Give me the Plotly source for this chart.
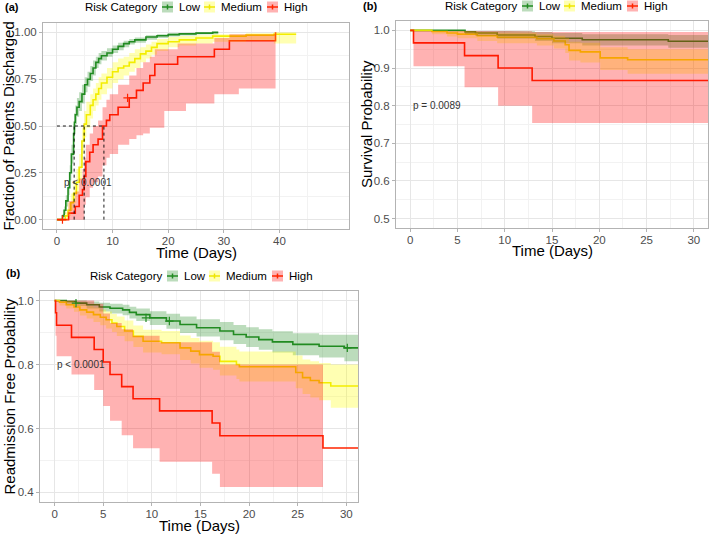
import plotly.graph_objects as go

FONT = "Liberation Sans, Arial, sans-serif"

groups = ["Low", "Medium", "High"]
line_colors = {"Low": "#228B22", "Medium": "#EEE600", "High": "#FF2400"}
band_colors = {"Low": "rgba(34,139,34,0.3)", "Medium": "rgba(255,255,0,0.3)", "High": "rgba(255,0,0,0.3)"}
legend_title = "Risk Category"
x_title = "Time (Days)"
y_titles = ["Fraction of Patients Discharged", "Survival Probability", "Readmission Free Probability"]

# ---------------- Panel (a): fraction discharged ----------------
a_low_t = [0, 1.0, 1.3, 1.6, 2.0, 2.3, 2.6, 3.0, 3.15, 3.3, 3.6, 4.0, 4.5, 5.0, 5.5, 6.0, 6.5, 7.0, 7.5, 8.0, 9.0, 10, 11, 12, 13, 14, 16, 18, 20, 22, 25, 28, 29]
a_low_v = [0, 0.02, 0.05, 0.10, 0.17, 0.25, 0.35, 0.46, 0.52, 0.56, 0.60, 0.63, 0.67, 0.72, 0.75, 0.78, 0.81, 0.84, 0.86, 0.875, 0.89, 0.91, 0.925, 0.94, 0.95, 0.96, 0.975, 0.982, 0.988, 0.992, 0.996, 1.0, 1.0]
a_low_lo = [0, 0.01, 0.03, 0.07, 0.13, 0.21, 0.30, 0.41, 0.47, 0.51, 0.55, 0.58, 0.62, 0.68, 0.71, 0.74, 0.77, 0.81, 0.83, 0.85, 0.87, 0.89, 0.905, 0.92, 0.935, 0.945, 0.96, 0.97, 0.978, 0.983, 0.988, 0.99, 0.99]
a_low_hi = [0, 0.03, 0.07, 0.13, 0.21, 0.29, 0.40, 0.51, 0.57, 0.61, 0.65, 0.68, 0.72, 0.76, 0.79, 0.82, 0.85, 0.87, 0.89, 0.90, 0.915, 0.93, 0.945, 0.955, 0.965, 0.972, 0.985, 0.99, 0.995, 0.998, 1.0, 1.0, 1.0]

a_med_t = [0, 1.5, 2.0, 2.5, 3.0, 3.5, 4.0, 4.5, 4.9, 5.3, 6.0, 6.5, 7.0, 7.5, 8.0, 9.0, 10.0, 11.0, 12.0, 13.0, 14.0, 15.0, 16.0, 17.0, 18.0, 20.0, 22.0, 25.0, 28.0, 34.0, 39.0, 43.0]
a_med_v = [0, 0.02, 0.05, 0.09, 0.14, 0.20, 0.28, 0.42, 0.51, 0.56, 0.61, 0.64, 0.67, 0.70, 0.73, 0.76, 0.79, 0.81, 0.82, 0.84, 0.86, 0.885, 0.90, 0.92, 0.94, 0.95, 0.96, 0.97, 0.98, 0.985, 0.99, 0.99]
a_med_lo = [0, 0.0, 0.02, 0.05, 0.09, 0.14, 0.21, 0.35, 0.44, 0.49, 0.54, 0.58, 0.61, 0.64, 0.67, 0.70, 0.73, 0.75, 0.77, 0.79, 0.81, 0.84, 0.86, 0.88, 0.90, 0.92, 0.93, 0.94, 0.95, 0.955, 0.94, 0.94]
a_med_hi = [0, 0.04, 0.09, 0.14, 0.20, 0.27, 0.35, 0.49, 0.58, 0.63, 0.67, 0.70, 0.73, 0.76, 0.78, 0.81, 0.84, 0.86, 0.87, 0.89, 0.91, 0.92, 0.935, 0.95, 0.965, 0.975, 0.98, 0.985, 0.99, 0.995, 1.0, 1.0]

a_high_t = [0, 2.1, 3.3, 4.0, 4.6, 4.9, 5.2, 5.9, 6.5, 7.4, 8.2, 8.9, 9.5, 11.0, 13.0, 14.3, 15.5, 16.7, 17.6, 19.3, 21.7, 23.2, 28.3, 31.0, 32.7, 39.3]
a_high_v = [0, 0.035, 0.07, 0.13, 0.16, 0.23, 0.31, 0.36, 0.40, 0.43, 0.50, 0.53, 0.56, 0.60, 0.65, 0.69, 0.73, 0.77, 0.83, 0.83, 0.87, 0.87, 0.91, 0.955, 0.955, 1.0]
a_high_lo = [0, 0, 0, 0, 0, 0.08, 0.12, 0.17, 0.20, 0.23, 0.29, 0.33, 0.35, 0.40, 0.43, 0.45, 0.46, 0.49, 0.49, 0.58, 0.58, 0.62, 0.67, 0.67, 0.70, 0.70]
a_high_hi = [0, 0.10, 0.15, 0.22, 0.27, 0.33, 0.40, 0.46, 0.50, 0.53, 0.60, 0.64, 0.67, 0.72, 0.77, 0.81, 0.84, 0.87, 0.91, 0.91, 0.94, 0.94, 0.97, 0.99, 0.99, 1.0]

a_high_cens_t = [1.0, 12.7]
a_high_cens_v = [0.0, 0.65]
a_median_t = [3.1, 4.9, 8.45]
a_pval = "p < 0.0001"

# ---------------- Panel (b) top: survival ----------------
b_low_t = [0, 5.8, 6.9, 9.2, 13.2, 15.0, 18.2, 27.3, 34]
b_low_v = [1.0, 0.996, 0.993, 0.988, 0.984, 0.979, 0.975, 0.971, 0.971]
b_low_lo = [1.0, 0.99, 0.985, 0.978, 0.972, 0.966, 0.96, 0.954, 0.954]
b_low_hi = [1.0, 1.0, 1.0, 0.998, 0.996, 0.993, 0.99, 0.988, 0.988]

b_med_t = [0, 2.3, 3.9, 5.0, 7.1, 9.2, 13.4, 15.2, 16.4, 16.8, 18.0, 20.1, 23.0, 34]
b_med_v = [1.0, 0.997, 0.993, 0.99, 0.986, 0.982, 0.978, 0.972, 0.962, 0.947, 0.943, 0.927, 0.922, 0.922]
b_med_lo = [1.0, 0.99, 0.984, 0.979, 0.972, 0.966, 0.96, 0.952, 0.94, 0.92, 0.915, 0.895, 0.885, 0.885]
b_med_hi = [1.0, 1.0, 1.0, 0.998, 0.996, 0.994, 0.99, 0.986, 0.98, 0.97, 0.967, 0.955, 0.95, 0.95]

b_high_t = [0, 0.35, 5.75, 9.3, 12.9, 34]
b_high_v = [1.0, 0.967, 0.933, 0.9, 0.867, 0.867]
b_high_lo = [1.0, 0.905, 0.849, 0.80, 0.754, 0.754]
b_high_hi = [1.0, 1.0, 1.0, 0.998, 0.996, 0.996]
b_pval = "p = 0.0089"

# ---------------- Panel (b) bottom: readmission free ----------------
c_low_t = [0, 1.2, 2.2, 3.3, 4.6, 5.7, 7.0, 7.7, 8.4, 9.8, 11.5, 12.9, 14.6, 17.0, 18.4, 19.7, 21.0, 22.4, 24.5, 27.2, 29.8, 34]
c_low_v = [1.0, 0.997, 0.992, 0.987, 0.98, 0.976, 0.971, 0.963, 0.956, 0.946, 0.936, 0.925, 0.915, 0.905, 0.894, 0.886, 0.878, 0.871, 0.863, 0.857, 0.852, 0.852]
c_low_lo = [1.0, 0.99, 0.983, 0.975, 0.966, 0.96, 0.954, 0.944, 0.936, 0.924, 0.912, 0.899, 0.888, 0.876, 0.864, 0.855, 0.846, 0.838, 0.829, 0.822, 0.81, 0.81]
c_low_hi = [1.0, 1.0, 1.0, 0.997, 0.993, 0.99, 0.987, 0.981, 0.975, 0.967, 0.959, 0.95, 0.942, 0.933, 0.924, 0.917, 0.91, 0.904, 0.898, 0.893, 0.893, 0.893]
c_low_cens_t = [2.2, 9.4, 11.8, 30.1]
c_low_cens_v = [0.992, 0.946, 0.936, 0.852]

c_med_t = [0, 0.5, 1.2, 2.0, 2.6, 3.3, 4.0, 4.7, 5.3, 5.9, 6.4, 7.2, 8.1, 9.1, 11.0, 12.9, 14.0, 14.9, 16.3, 17.0, 18.7, 19.0, 24.8, 25.5, 26.3, 27.2, 28.4, 34]
c_med_v = [1.0, 0.995, 0.987, 0.98, 0.971, 0.964, 0.956, 0.948, 0.94, 0.93, 0.919, 0.905, 0.888, 0.873, 0.868, 0.852, 0.842, 0.831, 0.826, 0.81, 0.80, 0.793, 0.775, 0.759, 0.75, 0.743, 0.733, 0.733]
c_med_lo = [1.0, 0.985, 0.975, 0.965, 0.953, 0.944, 0.933, 0.923, 0.913, 0.902, 0.889, 0.873, 0.855, 0.838, 0.832, 0.814, 0.803, 0.79, 0.784, 0.766, 0.755, 0.747, 0.726, 0.708, 0.697, 0.688, 0.665, 0.665]
c_med_hi = [1.0, 1.0, 0.998, 0.994, 0.988, 0.983, 0.978, 0.972, 0.966, 0.958, 0.95, 0.938, 0.922, 0.909, 0.905, 0.891, 0.883, 0.874, 0.87, 0.856, 0.847, 0.841, 0.828, 0.816, 0.81, 0.805, 0.80, 0.80]

c_high_t = [0, 0.1, 0.2, 1.74, 4.07, 5.0, 5.7, 6.9, 8.07, 10.8, 16.2, 17.0, 27.6, 34]
c_high_v = [1.0, 0.962, 0.923, 0.885, 0.847, 0.808, 0.769, 0.731, 0.693, 0.655, 0.617, 0.577, 0.539, 0.539]
c_high_band_t = [0, 0.1, 0.2, 1.74, 4.07, 5.0, 5.7, 6.9, 8.07, 10.8, 16.2, 17.0, 27.6]
c_high_lo = [1.0, 0.89, 0.826, 0.769, 0.72, 0.67, 0.624, 0.579, 0.538, 0.496, 0.458, 0.417, 0.417]
c_high_hi = [1.0, 1.0, 1.0, 1.0, 0.99, 0.96, 0.93, 0.91, 0.89, 0.87, 0.84, 0.80, 0.80]
c_pval = "p < 0.0001"


def step_path(t, v):
    xs, ys = [], []
    for i in range(len(t)):
        if i > 0:
            xs.append(t[i]); ys.append(v[i - 1])
        xs.append(t[i]); ys.append(v[i])
    return xs, ys


def band_poly(t, lo, hi):
    xu, yu = step_path(t, hi)
    xl, yl = step_path(t, lo)
    return xu + xl[::-1], yu + yl[::-1]


fig = go.Figure()

panels = [
    ("x", "y", {
        "Low": (a_low_t, a_low_v, a_low_t, a_low_lo, a_low_hi),
        "Medium": (a_med_t, a_med_v, a_med_t, a_med_lo, a_med_hi),
        "High": (a_high_t, a_high_v, a_high_t, a_high_lo, a_high_hi)}),
    ("x2", "y2", {
        "Low": (b_low_t, b_low_v, b_low_t, b_low_lo, b_low_hi),
        "Medium": (b_med_t, b_med_v, b_med_t, b_med_lo, b_med_hi),
        "High": (b_high_t, b_high_v, b_high_t, b_high_lo, b_high_hi)}),
    ("x3", "y3", {
        "Low": (c_low_t, c_low_v, c_low_t, c_low_lo, c_low_hi),
        "Medium": (c_med_t, c_med_v, c_med_t, c_med_lo, c_med_hi),
        "High": (c_high_t, c_high_v, c_high_band_t, c_high_lo, c_high_hi)}),
]

for xa, ya, data in panels:
    for g in groups:
        t, v, bt, lo, hi = data[g]
        fig.add_trace(go.Scatter(
            x=t, y=v, xaxis=xa, yaxis=ya, mode="lines", line_shape="hv", name=g,
            line=dict(color=line_colors[g], width=1.6), showlegend=False, hoverinfo="skip"))
    # confidence bands drawn on top (tinting lines as in the reference)
    for g in groups:
        t, v, bt, lo, hi = data[g]
        px, py = band_poly(bt, lo, hi)
        fig.add_trace(go.Scatter(
            x=px, y=py, xaxis=xa, yaxis=ya, mode="lines", fill="toself", name=g,
            fillcolor=band_colors[g], line=dict(width=0), showlegend=False, hoverinfo="skip"))

# censor marks
fig.add_trace(go.Scatter(x=a_high_cens_t, y=a_high_cens_v, xaxis="x", yaxis="y", mode="markers",
                         marker=dict(symbol="cross-thin", size=6, line=dict(color=line_colors["High"], width=1.2)),
                         showlegend=False, hoverinfo="skip"))
fig.add_trace(go.Scatter(x=c_low_cens_t, y=c_low_cens_v, xaxis="x3", yaxis="y3", mode="markers",
                         marker=dict(symbol="cross-thin", size=6, line=dict(color=line_colors["Low"], width=1.2)),
                         showlegend=False, hoverinfo="skip"))

# median lines (panel a)
half = 0.5
fig.add_trace(go.Scatter(x=[0, max(a_median_t)], y=[half, half], xaxis="x", yaxis="y", mode="lines",
                         line=dict(color="black", width=0.9, dash="3px,3px"), showlegend=False, hoverinfo="skip"))
for m in a_median_t:
    fig.add_trace(go.Scatter(x=[m, m], y=[0, half], xaxis="x", yaxis="y", mode="lines",
                             line=dict(color="black", width=0.9, dash="3px,3px"), showlegend=False, hoverinfo="skip"))

W, H = 709, 534


def xdom(l, r):
    return [l / W, r / W]


def ydom(top, bot):
    return [1 - bot / H, 1 - top / H]


tickfont = dict(family=FONT, size=11.5, color="#4d4d4d")
titlefont = dict(family=FONT, size=15, color="black")
GRID = "#e6e6e6"
MINOR = "#f2f2f2"
BORDER = "#b3b3b3"


def xaxis(dom, rng, ticks, minor, anchor):
    return dict(domain=dom, range=rng, anchor=anchor, tickmode="array", tickvals=ticks,
                ticktext=[str(t) for t in ticks], tickfont=tickfont, ticks="outside", ticklen=3,
                ticklabelstandoff=-2,
                tickcolor=BORDER, showline=True, linecolor=BORDER, linewidth=1, mirror=True,
                showgrid=True, gridcolor=GRID, gridwidth=1, zeroline=False, automargin=False,
                minor=dict(tickvals=minor, showgrid=True, gridcolor=MINOR, gridwidth=1, ticks=""))


def yaxis(dom, rng, ticks, labels, minor, anchor):
    return dict(domain=dom, range=rng, anchor=anchor, tickmode="array", tickvals=ticks,
                ticktext=labels, tickfont=tickfont, ticks="outside", ticklen=3,
                tickcolor=BORDER, showline=True, linecolor=BORDER, linewidth=1, mirror=True,
                showgrid=True, gridcolor=GRID, gridwidth=1, zeroline=False, automargin=False,
                minor=dict(tickvals=minor, showgrid=True, gridcolor=MINOR, gridwidth=1, ticks=""))


a_xticks = [0, 10, 20, 30, 40]
a_yticks = [0, 0.25, 0.5, 0.75, 1.0]
b_xticks = [0, 5, 10, 15, 20, 25, 30]
b_yticks = [0.5, 0.6, 0.7, 0.8, 0.9, 1.0]
c_yticks = [0.4, 0.6, 0.8, 1.0]

# panel boxes in pixels: (left, right, top, bottom)
boxes = [(43, 349, 23, 229), (396, 708, 21, 228), (40, 358, 291, 502)]

fig.update_layout(
    width=W, height=H, margin=dict(l=0, r=0, t=0, b=0, autoexpand=False),
    paper_bgcolor="white", plot_bgcolor="white",
    font=dict(family=FONT),
    showlegend=False,
    xaxis=xaxis(xdom(boxes[0][0], boxes[0][1]), [-2.5, 52.5], a_xticks, [5, 15, 25, 35, 45], "y"),
    yaxis=yaxis(ydom(boxes[0][2], boxes[0][3]), [-0.05, 1.05], a_yticks, ["0.00", "0.25", "0.50", "0.75", "1.00"],
                [0.125, 0.375, 0.625, 0.875], "x"),
    xaxis2=xaxis(xdom(boxes[1][0], boxes[1][1]), [-1.5, 31.5], b_xticks, [2.5, 7.5, 12.5, 17.5, 22.5, 27.5], "y2"),
    yaxis2=yaxis(ydom(boxes[1][2], boxes[1][3]), [0.475, 1.025], b_yticks, ["0.5", "0.6", "0.7", "0.8", "0.9", "1.0"],
                 [0.55, 0.65, 0.75, 0.85, 0.95], "x2"),
    xaxis3=xaxis(xdom(boxes[2][0], boxes[2][1]), [-1.5, 31.2], b_xticks, [2.5, 7.5, 12.5, 17.5, 22.5, 27.5], "y3"),
    yaxis3=yaxis(ydom(boxes[2][2], boxes[2][3]), [0.37, 1.03], c_yticks, ["0.4", "0.6", "0.8", "1.0"],
                 [0.5, 0.7, 0.9], "x3"),
)

# ---- axis titles ----
x_title_offsets = [24, 23, 23]     # px below panel bottom (title centre)
y_title_x = [7.5, 366.5, 9]        # px, title centre
for (l, r, t, b), dx, yx, yt in zip(boxes, x_title_offsets, y_title_x, y_titles):
    fig.add_annotation(text=x_title, x=(l + r) / 2 / W, y=1 - (b + dx) / H, xref="paper", yref="paper",
                       xanchor="center", yanchor="middle", showarrow=False, font=titlefont)
    fig.add_annotation(text=yt, x=yx / W, y=1 - (t + b) / 2 / H, xref="paper", yref="paper",
                       xanchor="center", yanchor="middle", textangle=-90, showarrow=False, font=titlefont)

# ---- legends (one per panel): title, then key boxes with line + cross, then labels ----
leg_font = dict(family=FONT, size=11.5, color="black")
key_offsets = [79, 121, 184]   # px from legend start to each key box
key_size = 11
legend_anchors = [(83, 7), (443, 6), (88, 276)]
for lx, ly in legend_anchors:
    fig.add_annotation(text=legend_title, x=lx / W, y=1 - ly / H, xref="paper", yref="paper",
                       xanchor="left", yanchor="middle", showarrow=False, font=leg_font)
    for g, off in zip(groups, key_offsets):
        k0 = lx + off
        fig.add_shape(type="rect", xref="paper", yref="paper",
                      x0=k0 / W, x1=(k0 + key_size) / W,
                      y0=1 - (ly + key_size / 2) / H, y1=1 - (ly - key_size / 2) / H,
                      fillcolor=band_colors[g], line=dict(width=0))
        fig.add_shape(type="line", xref="paper", yref="paper",
                      x0=k0 / W, x1=(k0 + key_size) / W, y0=1 - ly / H, y1=1 - ly / H,
                      line=dict(color=line_colors[g], width=1.5))
        fig.add_shape(type="line", xref="paper", yref="paper",
                      x0=(k0 + key_size / 2) / W, x1=(k0 + key_size / 2) / W,
                      y0=1 - (ly + 2.5) / H, y1=1 - (ly - 2.5) / H,
                      line=dict(color=line_colors[g], width=1.5))
        fig.add_annotation(text=g, x=(k0 + key_size + 4) / W, y=1 - ly / H, xref="paper", yref="paper",
                           xanchor="left", yanchor="middle", showarrow=False, font=leg_font)

ann_font = dict(family=FONT, size=11, color="black")
fig.add_annotation(text="<b>(a)</b>", x=3 / W, y=1 - 7 / H, xref="paper", yref="paper",
                   xanchor="left", yanchor="middle", showarrow=False, font=ann_font)
fig.add_annotation(text="<b>(b)</b>", x=361 / W, y=1 - 6 / H, xref="paper", yref="paper",
                   xanchor="left", yanchor="middle", showarrow=False, font=ann_font)
fig.add_annotation(text="<b>(b)</b>", x=4 / W, y=1 - 273 / H, xref="paper", yref="paper",
                   xanchor="left", yanchor="middle", showarrow=False, font=ann_font)

pfont = dict(family=FONT, size=10, color="#333333")
fig.add_annotation(text=a_pval, x=0.9, y=0.2, xref="x", yref="y", xanchor="left", yanchor="middle",
                   showarrow=False, font=pfont)
fig.add_annotation(text=b_pval, x=0.1, y=0.8, xref="x2", yref="y2", xanchor="left", yanchor="middle",
                   showarrow=False, font=pfont)
fig.add_annotation(text=c_pval, x=0.0, y=0.8, xref="x3", yref="y3", xanchor="left", yanchor="middle",
                   showarrow=False, font=pfont)

# remove the browser's default 8px page margin so the figure fills the window exactly
fig.write_html("out.html", config={"displayModeBar": False},
               post_script="document.body.style.margin='0';document.body.style.overflow='hidden';")
